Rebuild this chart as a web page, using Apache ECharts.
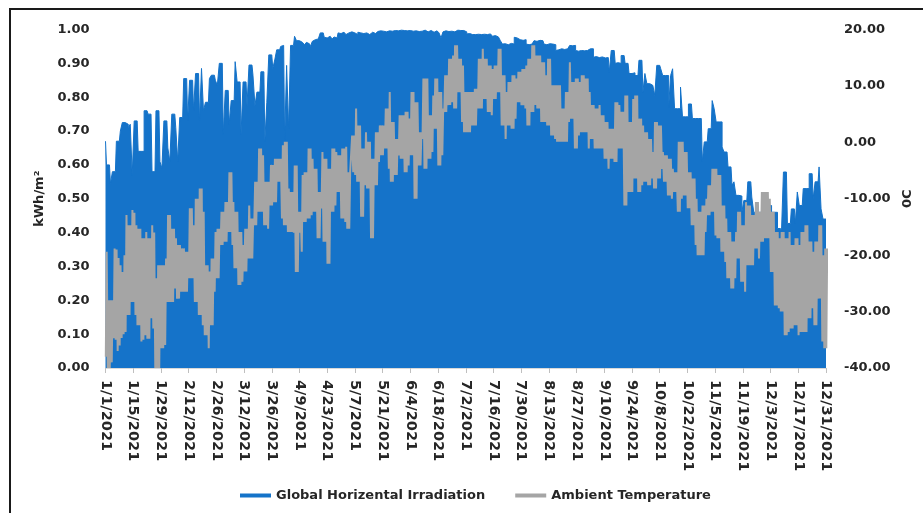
<!DOCTYPE html>
<html>
<head>
<meta charset="utf-8">
<script src="https://cdn.jsdelivr.net/npm/echarts/dist/echarts.min.js"></script>
<style>
html,body{margin:0;padding:0;background:#fff;}
#chartmain{position:absolute;left:0;top:0;width:923px;height:513px;}
#frame{position:absolute;left:9px;top:8px;width:930px;height:520px;border-left:2px solid #1a1a1a;border-top:2px solid #1a1a1a;pointer-events:none;}
</style>
</head>
<body>
<div id="chartmain"></div>
<div id="frame"></div>
<script>
// tick labels on the date axis, one every 14 days (day 0 = 1/1/2021)
var xLabels = ['1/1/2021','1/15/2021','1/29/2021','2/12/2021','2/26/2021','3/12/2021','3/26/2021',
	'4/9/2021','4/23/2021','5/7/2021','5/21/2021','6/4/2021','6/18/2021','7/2/2021','7/16/2021',
	'7/30/2021','8/13/2021','8/27/2021','9/10/2021','9/24/2021','10/8/2021','10/22/2021',
	'11/5/2021','11/19/2021','12/3/2021','12/17/2021','12/31/2021'];

// daily peak of global horizontal irradiation, kWh/m2
var irr = [
	0.67,0.60,0.60,0.545,0.58,0.58,0.67,0.67,0.70,0.725,
	0.725,0.72,0.71,0.72,0.57,0.73,0.73,0.64,0.64,0.64,
	0.76,0.76,0.75,0.75,0.58,0.58,0.76,0.76,0.61,0.59,
	0.73,0.73,0.65,0.61,0.75,0.75,0.71,0.61,0.74,0.74,
	0.855,0.855,0.73,0.85,0.85,0.76,0.87,0.87,0.73,0.885,
	0.76,0.785,0.785,0.855,0.865,0.865,0.85,0.835,0.90,0.90,
	0.69,0.82,0.82,0.72,0.79,0.79,0.905,0.845,0.845,0.69,
	0.845,0.845,0.775,0.895,0.895,0.865,0.775,0.815,0.815,0.875,
	0.875,0.67,0.785,0.925,0.925,0.885,0.91,0.94,0.94,0.95,
	0.953,0.67,0.894,0.707,0.953,0.953,0.98,0.967,0.967,0.962,
	0.96,0.955,0.962,0.958,0.95,0.965,0.97,0.972,0.968,0.99,
	0.99,0.977,0.975,0.98,0.977,0.972,0.978,0.975,0.99,0.988,
	0.992,0.99,0.985,0.99,0.993,0.988,0.99,0.985,0.992,0.99,
	0.988,0.993,0.99,0.985,0.99,0.992,0.988,0.99,0.994,0.996,
	0.995,0.997,0.993,0.996,0.998,0.995,0.997,0.994,0.996,0.998,
	0.995,0.997,0.996,0.993,0.997,0.995,0.998,0.996,0.994,0.997,
	0.995,0.998,0.996,0.993,0.997,0.995,0.992,0.996,0.994,0.99,
	0.975,0.993,0.996,0.994,0.997,0.995,0.993,0.996,0.998,0.997,
	0.995,0.997,0.993,0.987,0.988,0.985,0.987,0.985,0.986,0.984,
	0.985,0.986,0.984,0.985,0.987,0.99,0.98,0.982,0.978,0.98,
	0.967,0.957,0.958,0.955,0.957,0.959,0.957,0.977,0.975,0.97,
	0.972,0.968,0.97,0.957,0.955,0.957,0.958,0.967,0.965,0.968,
	0.966,0.967,0.957,0.955,0.958,0.956,0.957,0.955,0.938,0.94,
	0.943,0.945,0.941,0.943,0.944,0.953,0.952,0.953,0.938,0.936,
	0.938,0.94,0.937,0.938,0.939,0.943,0.943,0.918,0.92,0.917,
	0.918,0.919,0.916,0.918,0.917,0.874,0.938,0.938,0.90,0.902,
	0.90,0.923,0.923,0.90,0.90,0.87,0.87,0.872,0.864,0.864,
	0.909,0.909,0.815,0.87,0.84,0.84,0.835,0.835,0.805,0.894,
	0.894,0.884,0.864,0.864,0.864,0.77,0.864,0.884,0.766,0.766,
	0.766,0.83,0.742,0.742,0.742,0.78,0.78,0.737,0.737,0.737,
	0.737,0.737,0.61,0.668,0.668,0.707,0.707,0.79,0.766,0.727,
	0.727,0.727,0.653,0.638,0.638,0.594,0.594,0.54,0.55,0.51,
	0.51,0.508,0.461,0.495,0.495,0.55,0.55,0.505,0.46,0.46,
	0.46,0.46,0.46,0.46,0.48,0.48,0.48,0.46,0.46,0.46,
	0.412,0.412,0.40,0.579,0.579,0.427,0.427,0.47,0.47,0.427,
	0.52,0.48,0.48,0.53,0.53,0.53,0.574,0.574,0.50,0.55,
	0.55,0.594,0.47,0.44,0.44
];

// daily high / low of ambient temperature, 0C
var tHi = [
	-19.4,-28,-28,-28,-18.8,-19,-20.5,-21.8,-23,-20,
	-12.9,-14.7,-14.7,-12,-12.5,-14.7,-15.3,-15.3,-17,-17,
	-15.9,-17,-17,-14.7,-16,-24.1,-21.8,-21.8,-21.8,-21.8,
	-20.6,-12.9,-12.9,-15.3,-15.3,-17,-18.2,-18.2,-18.8,-18.8,
	-19.4,-19.4,-11.7,-11.7,-14.7,-10,-10,-8.2,-8.2,-12.3,
	-21.8,-21.8,-22.9,-20.6,-20.6,-15.9,-15.3,-15.3,-12.3,-12.3,
	-10.6,-10.6,-5.3,-5.3,-10.6,-12.3,-12.3,-15.9,-15.9,-18.2,
	-15.3,-15.3,-11.2,-13.5,-13.5,-7,-7,-1.1,-1.1,-2.3,
	-7,-7,-7,-4,-4,-2.9,-2.9,-2.9,-2.9,-0.5,
	0.1,0.1,-8.2,-8.8,-8.8,-4.1,-4.1,-12.3,-12.3,-5.8,
	-5.3,-5.3,-1.1,-1.1,-2.9,-4.7,-4.7,-8.8,-8.8,-1.7,
	-2.9,-2.9,-4.7,-4.7,-1.1,-1.1,-1.7,-2.3,-2.3,-1.1,
	-1.1,-0.8,-5.3,-5.3,1.2,1.2,6.0,3.0,3.0,-1.1,
	-1.1,1.8,0.1,0.1,-2.9,-2.9,1.8,1.8,3.0,3.0,
	3.0,6.0,6.0,8.9,3.6,3.6,0.6,0.6,4.8,4.8,
	4.8,5.4,5.4,4.2,8.9,8.9,7.1,7.1,1.8,1.8,
	11.3,11.3,11.3,4.8,4.8,8.3,11.3,11.3,8.9,8.9,
	6.0,11.9,11.9,14.8,14.8,15.4,17.2,17.2,14.8,14.8,
	13.6,8.9,8.9,8.9,8.9,8.9,9.5,9.5,14.8,14.8,
	16.6,14.8,14.8,13.6,13.6,13.0,13.6,13.6,16.6,16.6,
	11.9,11.9,8.9,10.7,10.7,11.9,11.9,11.3,12.5,12.5,
	13.0,13.0,13.6,14.8,14.8,17.2,17.2,15.4,15.4,15.4,
	14.2,14.2,11.9,14.8,14.8,10.1,10.1,10.1,10.1,10.1,
	6.0,6.0,8.9,8.9,14.2,10.7,10.7,11.3,11.3,10.7,
	11.9,11.9,11.3,11.3,8.9,6.6,6.6,6.0,6.0,6.6,
	4.8,4.8,3.6,3.6,2.4,2.4,2.4,7.1,7.1,6.6,
	5.4,5.4,8.3,8.3,3.6,3.6,7.7,8.3,8.3,4.2,
	4.2,3.0,1.8,1.8,0.6,0.6,-1.7,3.6,3.6,3.0,
	3.0,-1.7,-2.3,-2.3,-2.9,-2.9,-4.7,-5.3,-5.3,0.1,
	0.1,0.1,-1.7,-1.7,-5.3,-5.3,-6.4,-6.4,-10,-12.3,
	-12.3,-11.2,-11.2,-10,-7.6,-7.6,-4.7,-4.7,-4.7,-5.8,
	-5.8,-11.2,-11.2,-13.5,-15.9,-15.9,-17.6,-17.6,-15.9,-12.3,
	-12.3,-14.7,-14.7,-10.6,-11.2,-11.2,-12.9,-12.9,-10.6,-10.6,
	-12.3,-8.8,-8.8,-8.8,-8.8,-10,-12.3,-12.3,-15.9,-15.9,
	-17,-15.9,-15.9,-17,-17,-15.9,-18.2,-18.2,-17,-17,
	-18.2,-15.9,-15.9,-14.7,-14.7,-17.6,-17.6,-19.4,-17.6,-17.6,
	-14.7,-14.7,-20,-18.8,-18.8
];
var tLo = [
	-38,-40,-40,-39,-34.7,-35,-37,-36,-34.7,-34,
	-33.6,-30.6,-30.6,-28.3,-28.3,-30.6,-32.4,-32.4,-35.3,-35,
	-34.2,-34.8,-34.8,-31.2,-33,-40,-40,-40,-36.5,-36.5,
	-35.9,-28.3,-28.3,-28.3,-28.3,-25.9,-27.7,-27.7,-26.5,-26.5,
	-26.5,-26.5,-24.1,-24.1,-24.1,-28.3,-28.3,-30.6,-30.6,-32.4,
	-34.2,-34.2,-36.5,-32.4,-32.4,-26.5,-24.1,-24.1,-18.2,-18.2,
	-17.6,-17.6,-15.9,-15.9,-18.2,-22.3,-22.3,-25.3,-25.3,-24.7,
	-22.9,-22.9,-20.6,-20.6,-20.6,-14.7,-14.7,-12.3,-12.3,-12.3,
	-14.7,-14.7,-15.3,-11.2,-11.2,-10.6,-10.6,-7,-7,-13.5,
	-14.7,-14.7,-15.9,-15.9,-15.9,-16,-23,-23,-16,-19.4,
	-14.1,-14.1,-13.5,-13.5,-12.9,-12.3,-12.3,-17,-17,-11.7,
	-17.6,-17.6,-21.5,-21.5,-12.3,-12.3,-11.2,-8.8,-8.8,-13.5,
	-13.5,-14.1,-15.3,-15.3,-5.3,-5.3,-5.8,-7,-7,-13.2,
	-13.2,-7.6,-8.2,-8.2,-17,-17,-7.6,-7.6,-3.5,-2.3,
	-2.3,-1.1,-1.1,-4.7,-7,-7,-5.8,-5.8,-2.3,-2.9,
	-2.9,-5.3,-5.3,-4.1,-2.3,-2.3,-10,-10,-4.1,-4.1,
	0.6,-4.7,-4.7,-2.9,-2.9,-1.7,2.4,2.4,-4.1,-4.1,
	-2.3,5.4,5.4,6.6,6.6,7.1,6.0,6.0,8.9,8.9,
	3.6,1.8,1.8,1.8,1.8,3.0,3.0,3.0,6.0,6.0,
	6.0,7.7,7.7,5.4,5.4,4.8,7.7,7.7,8.9,8.9,
	3.0,3.0,0.6,3.0,3.0,2.4,2.4,4.2,7.1,7.1,
	6.6,6.6,6.0,3.0,3.0,5.4,5.4,6.6,6.0,6.0,
	3.6,3.6,3.6,3.0,3.0,1.2,1.2,0.6,0.1,0.1,
	0.1,0.1,0.1,0.1,3.6,4.2,4.2,-1.1,-1.1,1.2,
	1.8,1.8,1.8,1.8,-1.1,0.6,0.6,-1.1,-1.1,-1.1,
	-1.1,-1.1,-2.9,-2.9,-4.7,-2.9,-2.9,-3.5,-3.5,-1.1,
	-1.1,-1.1,-11.2,-11.2,-8.8,-8.8,-8.8,-6.4,-6.4,-8.8,
	-8.8,-7.6,-7,-7,-7.6,-7.6,-6.4,-8.2,-8.2,-6.4,
	-6.4,-4.7,-7,-7,-9.4,-9.4,-10,-8.8,-8.8,-12.3,
	-12.3,-10,-9.4,-9.4,-11.7,-11.7,-14.7,-14.7,-18.2,-20,
	-20,-20,-20,-15.9,-12.9,-12.9,-12.3,-12.3,-16.5,-17,
	-17,-19.4,-19.4,-21.2,-24.1,-24.1,-25.9,-25.9,-24.1,-20.6,
	-20.6,-24.7,-24.7,-26.5,-21.8,-21.8,-21.8,-21.8,-18.8,-18.8,
	-20.6,-17.6,-17.6,-17,-17,-17,-23,-23,-28.9,-28.9,
	-29.4,-30,-30,-34.2,-34.2,-33.6,-33,-33,-32.4,-32.4,
	-34.2,-33.6,-33.6,-33.6,-33.6,-31.2,-31.2,-29.4,-32.4,-32.4,
	-27.7,-27.7,-35.3,-36.5,-36.5
];

var irrData = [];
for(var i=0;i<irr.length;i++){
	irrData.push([i, irr[i]]);
}
// low in the morning, high in the afternoon
var tempData = [];
for(var j=0;j<tHi.length;j++){
	tempData.push([j+0.15, tLo[j]]);
	tempData.push([j+0.6, tHi[j]]);
}

var font = 'DejaVu Sans';
var txt = '#262626';
var myChart = echarts.init(document.getElementById('chartmain'));
var option = {
	animation: false,
	grid: {
		left: 105.5,
		right: 97,
		top: 29.5,
		bottom: 145
	},
	legend: {
		left: 235,
		top: 484,
		itemGap: 30,
		itemWidth: 31,
		itemHeight: 4,
		icon: 'rect',
		textStyle: {fontFamily: font, fontWeight: 'bold', fontSize: 13, color: txt},
		data: ['Global Horizental Irradiation', 'Ambient Temperature']
	},
	xAxis: {
		type: 'value',
		min: 0,
		max: 364,
		interval: 14,
		splitLine: {show: false},
		axisLine: {show: true, onZero: false, lineStyle: {color: '#d9d9d9', width: 1}},
		axisTick: {show: true, length: 5, lineStyle: {color: '#bfbfbf'}},
		axisLabel: {
			rotate: -90,
			margin: 12,
			fontFamily: font,
			fontWeight: 'bold',
			fontSize: 14.5,
			color: txt,
			formatter: function(v){
				return xLabels[Math.round(v/14)];
			}
		}
	},
	yAxis: [
		{
			type: 'value',
			min: 0,
			max: 1,
			interval: 0.1,
			name: 'kWh/m²',
			nameLocation: 'middle',
			nameRotate: 90,
			nameGap: 52,
			nameTextStyle: {fontFamily: font, fontWeight: 'bold', fontSize: 13, color: txt},
			splitLine: {show: false},
			axisLine: {show: false},
			axisTick: {show: false},
			axisLabel: {
				margin: 16,
				fontFamily: font,
				fontWeight: 'bold',
				fontSize: 13,
				color: txt,
				formatter: function(v){ return v.toFixed(2); }
			}
		},
		{
			type: 'value',
			min: -40,
			max: 20,
			interval: 10,
			name: '0C',
			nameLocation: 'middle',
			nameRotate: 90,
			nameGap: 70,
			nameTextStyle: {fontFamily: font, fontWeight: 'bold', fontSize: 13, color: txt},
			splitLine: {show: false},
			axisLine: {show: false},
			axisTick: {show: false},
			axisLabel: {
				margin: 18,
				fontFamily: font,
				fontWeight: 'bold',
				fontSize: 13,
				color: txt,
				formatter: function(v){ return v.toFixed(2); }
			}
		}
	],
	series: [
		{
			name: 'Global Horizental Irradiation',
			type: 'line',
			step: 'middle',
			yAxisIndex: 0,
			showSymbol: false,
			itemStyle: {color: '#1573c9'},
			lineStyle: {color: '#1573c9', width: 1},
			areaStyle: {color: '#1573c9', opacity: 1},
			data: irrData,
			z: 2
		},
		{
			name: 'Ambient Temperature',
			type: 'line',
			yAxisIndex: 1,
			showSymbol: false,
			itemStyle: {color: '#a5a5a5'},
			lineStyle: {color: '#a5a5a5', width: 2},
			data: tempData,
			z: 3
		}
	]
};
myChart.setOption(option);
</script>
</body>
</html>
